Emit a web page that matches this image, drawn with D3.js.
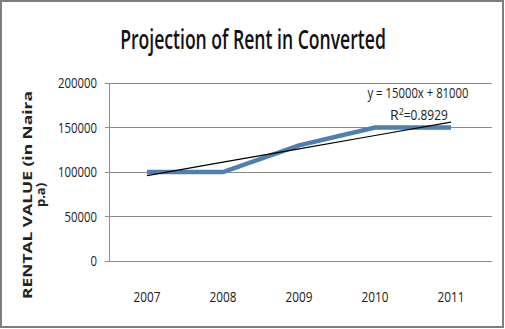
<!DOCTYPE html>
<html><head><meta charset="utf-8">
<script src="https://cdn.jsdelivr.net/npm/d3@7/dist/d3.min.js"></script>
<style>body{margin:0;background:#fff}svg{display:block}</style>
</head><body>
<svg id="c" width="505" height="329"></svg>
<script>
const years = ["2007","2008","2009","2010","2011"];
const rent = [100000, 100000, 130000, 150000, 150000];
const trendSlope = 15000, trendIntercept = 81000;
const yTicks = [0, 50000, 100000, 150000, 200000];
const title = "Projection of Rent in Converted";
const eqLabel = "y = 15000x + 81000";

const svg = d3.select("#c");
svg.append("rect").attr("x",1).attr("y",1).attr("width",502).attr("height",326)
  .attr("fill","#fff").attr("stroke","#7f7f7f").attr("stroke-width",2);

const L=109, R=489, T=83, B=261;
const x = d3.scaleBand().domain(years).range([L,R]);
const y = d3.scaleLinear().domain([0,200000]).range([B,T]);
const cx = d => x(d)+x.bandwidth()/2;

svg.append("g").selectAll("line").data(yTicks.filter(v=>v>0)).join("line")
  .attr("x1",L-4).attr("x2",R+3).attr("y1",d=>y(d)).attr("y2",d=>y(d))
  .attr("stroke","#8c8c8c").attr("stroke-width",1).attr("shape-rendering","crispEdges");
svg.append("line").attr("x1",L).attr("x2",L).attr("y1",T).attr("y2",B)
  .attr("stroke","#8c8c8c").attr("shape-rendering","crispEdges");
svg.append("line").attr("x1",L-4).attr("x2",R+3).attr("y1",B).attr("y2",B)
  .attr("stroke","#8c8c8c").attr("shape-rendering","crispEdges");

const font = "'Open Sans','Noto Sans',sans-serif";
const cw = 6.5;
svg.append("g").selectAll("text").data(yTicks).join("text")
  .attr("x",97).attr("y",d=>y(d)+5).attr("text-anchor","end")
  .attr("font-family",font).attr("font-size",14).attr("fill","#222")
  .attr("textLength",d=>String(d).length*cw).attr("lengthAdjust","spacingAndGlyphs")
  .text(d=>d);
svg.append("g").selectAll("text").data(years).join("text")
  .attr("x",d=>cx(d)).attr("y",302).attr("text-anchor","middle")
  .attr("font-family",font).attr("font-size",14).attr("fill","#222")
  .attr("textLength",27).attr("lengthAdjust","spacingAndGlyphs")
  .text(d=>d);

// title, horizontally condensed to match the reference width
const tt = svg.append("text").attr("x",0).attr("y",0).attr("text-anchor","middle")
  .attr("font-family",font).attr("font-size",27).attr("font-weight",600)
  .attr("fill","#111").text(title);
const nat = tt.node().getComputedTextLength();
tt.attr("transform",`translate(253,49) scale(${266/nat},1)`);

const yt = svg.append("text").attr("transform","translate(0,195) rotate(-90)")
  .attr("text-anchor","middle").attr("font-family",font)
  .attr("font-size",13).attr("font-weight","bold").attr("fill","#222");
yt.append("tspan").attr("x",0).attr("y",32).attr("textLength",208).attr("lengthAdjust","spacingAndGlyphs")
  .text("RENTAL VALUE (in Naira");
yt.append("tspan").attr("x",0).attr("y",45).text("p.a)");

const line = d3.line().x((d,i)=>cx(years[i])).y(d=>y(d));
svg.append("path").datum(rent).attr("d",line).attr("fill","none")
  .attr("stroke","#4f7fb0").attr("stroke-width",4.5).attr("stroke-linejoin","miter");

const trend = years.map((d,i)=>trendSlope*(i+1)+trendIntercept);
svg.append("path").datum(trend).attr("d",line).attr("fill","none")
  .attr("stroke","#000").attr("stroke-width",1.2);

svg.append("text").attr("x",418).attr("y",98).attr("text-anchor","middle")
  .attr("font-family",font).attr("font-size",14).attr("fill","#222")
  .attr("textLength",101).attr("lengthAdjust","spacingAndGlyphs").text(eqLabel);
const r2 = svg.append("text").attr("x",390).attr("y",120)
  .attr("font-family",font).attr("font-size",14).attr("fill","#222");
r2.append("tspan").text("R");
r2.append("tspan").attr("dy",-5).attr("font-size",9).text("2");
r2.append("tspan").attr("dy",5).attr("textLength",44).attr("lengthAdjust","spacingAndGlyphs").text("=0.8929");
</script>
</body></html>
